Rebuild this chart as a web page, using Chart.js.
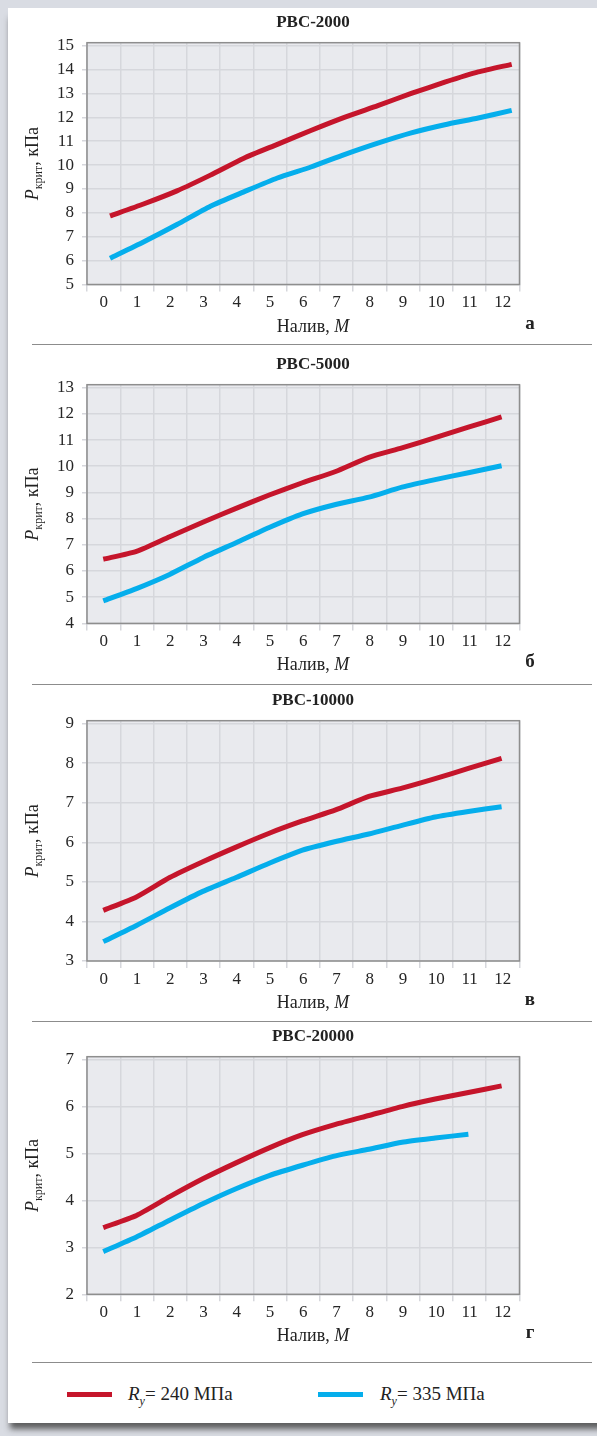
<!DOCTYPE html>
<html lang="ru">
<head>
<meta charset="utf-8">
<title>Критическое давление в РВС</title>
<script src="https://cdn.jsdelivr.net/npm/chart.js@4.4.1/dist/chart.umd.min.js"></script>
<style>
  body { margin: 0; width: 597px; height: 1436px; background: #d9dce3; position: relative; overflow: hidden; font-family: "Liberation Serif", serif; }
  .card { position: absolute; left: 8px; top: 8px; width: 600px; height: 1415px; background: #fff; box-shadow: 0 8px 6px -2px rgba(70, 70, 70, .85); }
  canvas { position: absolute; left: 8px; }
  .sep { position: absolute; left: 32px; width: 560px; height: 1px; background: #8c8c8c; }
  .swatch { position: absolute; top: 1392px; width: 45px; height: 5px; }
  .leg { position: absolute; top: 1383px; font-size: 19px; line-height: 22px; color: #222; white-space: nowrap; }
  .leg sub { font-size: 12px; line-height: 0; }
</style>
</head>
<body>
<div class="card"></div>

<canvas id="chartA" width="589" height="336" style="top:8px"></canvas>
<div class="sep" style="top:344px"></div>
<canvas id="chartB" width="589" height="340" style="top:344px"></canvas>
<div class="sep" style="top:684px"></div>
<canvas id="chartC" width="589" height="337" style="top:684px"></canvas>
<div class="sep" style="top:1021px"></div>
<canvas id="chartD" width="589" height="341" style="top:1021px"></canvas>
<div class="sep" style="top:1362px"></div>

<!-- legend -->
<div class="swatch" style="left:67px;background:#c5152b"></div>
<div class="leg" style="left:128px"><i>R</i><sub><i>y</i></sub>= 240 МПа</div>
<div class="swatch" style="left:318px;background:#05aeec"></div>
<div class="leg" style="left:380px"><i>R</i><sub><i>y</i></sub>= 335 МПа</div>

<script>
// Fill level axis (categories and tick labels)
const fillLevels = [0, 1, 2, 3, 4, 5, 6, 7, 8, 9, 10, 11, 12];
const fillLabels = ['0', '1', '2', '3', '4', '5', '6', '7', '8', '9', '10', '11', '12'];

// Panel titles and letters
const tankNames = ['РВС-2000', 'РВС-5000', 'РВС-10000', 'РВС-20000'];
const panelLetters = ['а', 'б', 'в', 'г'];

// P крит, кПа  (Ry = 240 МПа / Ry = 335 МПа)
const ry240Tank2000 = [7.87, 8.37, 8.92, 9.58, 10.29, 10.87, 11.45, 12.0, 12.49, 13.0, 13.47, 13.9, 14.22];
const ry335Tank2000 = [6.1, 6.78, 7.51, 8.28, 8.88, 9.46, 9.92, 10.44, 10.92, 11.35, 11.69, 11.97, 12.29];

const ry240Tank5000 = [6.45, 6.75, 7.31, 7.86, 8.39, 8.9, 9.37, 9.8, 10.34, 10.7, 11.09, 11.49, 11.88];
const ry335Tank5000 = [4.86, 5.33, 5.87, 6.51, 7.08, 7.66, 8.18, 8.54, 8.82, 9.2, 9.49, 9.75, 10.02];

const ry240Tank10000 = [4.28, 4.62, 5.11, 5.51, 5.88, 6.23, 6.54, 6.82, 7.16, 7.37, 7.61, 7.87, 8.12];
const ry335Tank10000 = [3.49, 3.9, 4.34, 4.76, 5.11, 5.47, 5.8, 6.02, 6.21, 6.43, 6.64, 6.78, 6.9];

const ry240Tank20000 = [3.42, 3.68, 4.08, 4.46, 4.8, 5.12, 5.4, 5.62, 5.81, 6.0, 6.16, 6.3, 6.44];
const ry335Tank20000 = [2.91, 3.22, 3.58, 3.93, 4.25, 4.53, 4.75, 4.95, 5.09, 5.24, 5.33, 5.41, null];

// y axis ranges, kPa
const yRanges = [[5, 15], [4, 13], [3, 9], [2, 7]];

const RED = '#c5152b';
const BLUE = '#05aeec';
const GRID = '#d6d7dc';
const TXT = '#262626';
const SERIF = '"Liberation Serif", serif';

function toPoints(values) {
    return fillLevels.map((x, i) => ({ x: x, y: values[i] }));
}

// plot background, frame and all the mixed-style text
const panelDecor = {
    id: 'panelDecor',
    beforeDraw(chart) {
        const { ctx, chartArea: a } = chart;
        ctx.save();
        ctx.fillStyle = '#e9eaee';
        ctx.fillRect(a.left, a.top, a.width, a.height);
        ctx.restore();
    },
    beforeDatasetsDraw(chart) {
        const { ctx, chartArea: a } = chart;
        ctx.save();
        ctx.strokeStyle = '#8e8e8e';
        ctx.lineWidth = 1.5;
        ctx.strokeRect(a.left, a.top, a.width, a.height);
        ctx.restore();
    },
    afterDraw(chart, args, opts) {
        const { ctx, chartArea: a } = chart;
        const cx = 305;
        const regular = '18px ' + SERIF;
        const italic = 'italic 18px ' + SERIF;
        ctx.save();
        ctx.fillStyle = '#222';

        // title
        ctx.font = 'bold 17px ' + SERIF;
        ctx.textAlign = 'center';
        ctx.textBaseline = 'middle';
        ctx.fillText(opts.title, cx, a.top - 20);

        // x title: "Налив, M"
        ctx.textBaseline = 'alphabetic';
        ctx.textAlign = 'left';
        ctx.font = regular;
        const w1 = ctx.measureText('Налив, ').width;
        ctx.font = italic;
        const w2 = ctx.measureText('M').width;
        const x0 = cx - (w1 + w2) / 2;
        ctx.font = regular;
        ctx.fillText('Налив, ', x0, a.bottom + 47);
        ctx.font = italic;
        ctx.fillText('M', x0 + w1, a.bottom + 47);

        // panel letter
        ctx.font = 'bold 19px ' + SERIF;
        ctx.textAlign = 'center';
        ctx.fillText(opts.letter, 522, a.bottom + 44);

        // y title: P крит, кПа (rotated)
        const parts = [
            { t: 'P', font: italic, dy: 0 },
            { t: 'крит', font: '12px ' + SERIF, dy: 4 },
            { t: ', кПа', font: regular, dy: 0 }
        ];
        let total = 0;
        parts.forEach(p => { ctx.font = p.font; p.w = ctx.measureText(p.t).width; total += p.w; });
        ctx.translate(30, (a.top + a.bottom) / 2);
        ctx.rotate(-Math.PI / 2);
        ctx.textAlign = 'left';
        let px = -total / 2;
        parts.forEach(p => {
            ctx.font = p.font;
            ctx.fillText(p.t, px, p.dy);
            px += p.w;
        });
        ctx.restore();
    }
};

function drawPanel(canvasId, idx, red, blue, xSpan, pad) {
    const yRange = yRanges[idx];
    const headroom = (yRange[1] - yRange[0]) * 0.0125;
    return new Chart(document.getElementById(canvasId), {
        type: 'line',
        data: {
            datasets: [{
                label: 'Ry = 240 МПа',
                data: toPoints(red),
                borderColor: RED,
                borderWidth: 5,
                pointRadius: 0,
                tension: 0.2,
                xAxisID: 'xv',
                yAxisID: 'y'
            }, {
                label: 'Ry = 335 МПа',
                data: toPoints(blue),
                borderColor: BLUE,
                borderWidth: 5,
                pointRadius: 0,
                tension: 0.2,
                xAxisID: 'xv',
                yAxisID: 'y'
            }]
        },
        options: {
            responsive: false,
            animation: false,
            layout: { padding: pad },
            plugins: {
                legend: { display: false },
                tooltip: { enabled: false },
                panelDecor: { title: tankNames[idx], letter: panelLetters[idx] }
            },
            scales: {
                x: {
                    type: 'category',
                    labels: fillLabels,
                    offset: true,
                    grid: { offset: true, color: GRID, lineWidth: 1.5, tickLength: 7 },
                    border: { display: false },
                    ticks: { font: { family: SERIF, size: 17 }, color: TXT, padding: 1, maxRotation: 0, autoSkip: false },
                    afterFit: s => { s.height = 40; }
                },
                xv: {
                    type: 'linear',
                    display: false,
                    min: xSpan[0],
                    max: xSpan[1]
                },
                y: {
                    min: yRange[0],
                    max: yRange[1] + headroom,
                    grid: { color: GRID, lineWidth: 1.5, tickLength: 5 },
                    border: { display: false },
                    ticks: { stepSize: 1, includeBounds: false, font: { family: SERIF, size: 17 }, color: TXT, padding: 8 },
                    afterFit: s => { s.width = 79; }
                }
            }
        },
        plugins: [panelDecor]
    });
}

document.addEventListener('DOMContentLoaded', () => {
    drawPanel('chartA', 0, ry240Tank2000, ry335Tank2000, [-0.687, 12.233], { left: 0, right: 77.5, top: 34.7, bottom: 19.5 });
    drawPanel('chartB', 1, ry240Tank5000, ry335Tank5000, [-0.49, 12.54], { left: 0, right: 77.5, top: 40.7, bottom: 20.6 });
    drawPanel('chartC', 2, ry240Tank10000, ry335Tank10000, [-0.49, 12.54], { left: 0, right: 77.5, top: 36.7, bottom: 20 });
    drawPanel('chartD', 3, ry240Tank20000, ry335Tank20000, [-0.49, 12.54], { left: 0, right: 77.5, top: 35.7, bottom: 27.7 });
});
</script>
</body>
</html>
